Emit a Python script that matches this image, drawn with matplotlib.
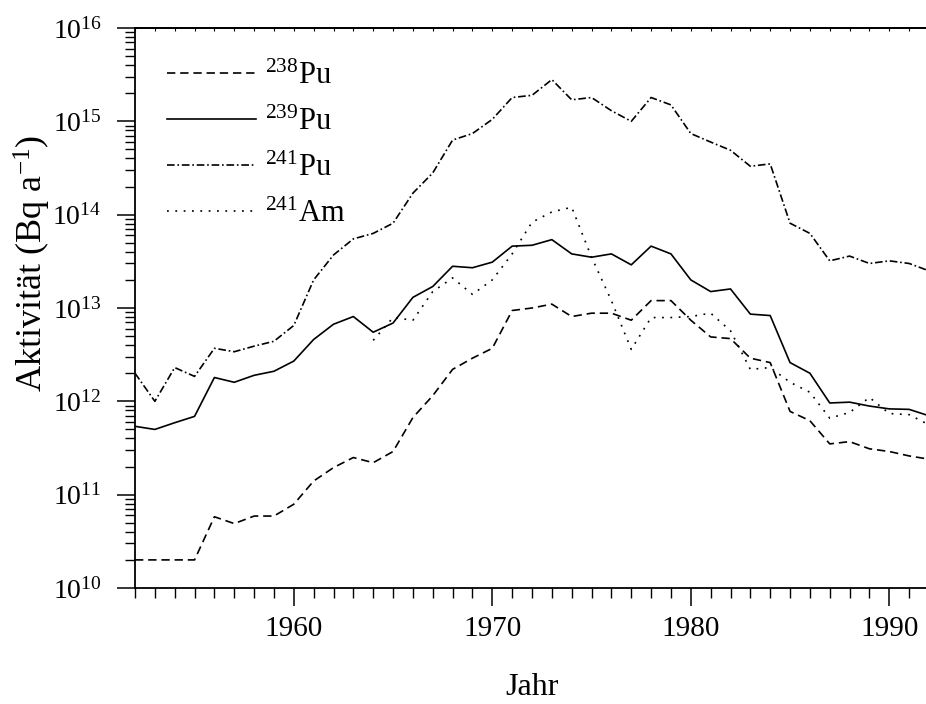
import matplotlib
matplotlib.use("Agg")
import matplotlib.pyplot as plt
from matplotlib.ticker import LogLocator, MultipleLocator, NullFormatter

plt.rcParams['font.family'] = ['Liberation Serif', 'DejaVu Serif']
plt.rcParams['mathtext.fontset'] = 'custom'
plt.rcParams['mathtext.rm'] = 'Liberation Serif'
plt.rcParams['mathtext.it'] = 'Liberation Serif:italic'
plt.rcParams['mathtext.bf'] = 'Liberation Serif:bold'
plt.rcParams['lines.scale_dashes'] = False

years = list(range(1952, 1993))

pu238 = [2.0e10, 2.0e10, 2.0e10, 2.0e10, 5.8e10, 4.9e10, 5.9e10, 5.9e10, 7.9e10, 1.4e11,
         1.95e11, 2.5e11, 2.2e11, 2.9e11, 6.7e11, 1.15e12, 2.2e12, 2.9e12, 3.7e12, 9.4e12,
         1.0e13, 1.1e13, 8.1e12, 8.8e12, 8.8e12, 7.4e12, 1.2e13, 1.2e13, 7.4e12, 4.9e12,
         4.7e12, 2.9e12, 2.6e12, 7.8e11, 6.2e11, 3.5e11, 3.7e11, 3.1e11, 2.9e11, 2.6e11,
         2.4e11]

pu239 = [5.4e11, 5.0e11, 5.9e11, 6.9e11, 1.8e12, 1.6e12, 1.9e12, 2.1e12, 2.7e12, 4.6e12,
         6.7e12, 8.1e12, 5.5e12, 6.9e12, 1.3e13, 1.7e13, 2.8e13, 2.7e13, 3.1e13, 4.6e13,
         4.7e13, 5.4e13, 3.8e13, 3.5e13, 3.8e13, 2.9e13, 4.6e13, 3.8e13, 2.0e13, 1.5e13,
         1.6e13, 8.6e12, 8.3e12, 2.6e12, 2.0e12, 9.6e11, 9.8e11, 8.9e11, 8.3e11, 8.2e11,
         7.0e11]

pu241 = [2.0e12, 1.0e12, 2.3e12, 1.85e12, 3.7e12, 3.4e12, 3.9e12, 4.4e12, 6.5e12, 2.0e13,
         3.7e13, 5.5e13, 6.3e13, 8.1e13, 1.7e14, 2.8e14, 6.3e14, 7.4e14, 1.05e15, 1.8e15,
         1.9e15, 2.8e15, 1.7e15, 1.8e15, 1.3e15, 1.0e15, 1.8e15, 1.5e15, 7.4e14, 6.0e14,
         4.9e14, 3.3e14, 3.5e14, 8.1e13, 6.3e13, 3.2e13, 3.6e13, 3.0e13, 3.2e13, 3.0e13,
         2.5e13]

am_years = list(range(1964, 1993))
am241 = [4.5e12, 7.9e12, 7.4e12, 1.5e13, 2.1e13, 1.4e13, 2.0e13, 3.8e13, 8.3e13, 1.07e14,
         1.2e14, 3.5e13, 1.2e13, 3.6e12, 7.9e12, 7.9e12, 8.1e12, 8.8e12, 5.7e12, 2.2e12,
         2.3e12, 1.6e12, 1.25e12, 6.6e11, 7.6e11, 1.1e12, 7.4e11, 7.2e11, 5.6e11]

labels = [r'$^{238}$Pu', r'$^{239}$Pu', r'$^{241}$Pu', r'$^{241}$Am']

fig = plt.figure(figsize=(9.26, 7.04), dpi=100)
W, H = 926, 704
ax = fig.add_axes([135 / W, 1 - 588 / H, 794 / W, 560 / H])

lw = 1.2
ax.plot(years, pu238, color='black', lw=lw, linestyle=(0, (6, 3.5)), label=labels[0])
ax.plot(years, pu239, color='black', lw=lw, linestyle='-', label=labels[1])
ax.plot(years, pu241, color='black', lw=lw, linestyle=(0, (5.5, 2, 1.2, 2)), label=labels[2])
ax.plot(am_years, am241, color='black', lw=lw, linestyle=(0, (1.3, 4.7)), label=labels[3])

ax.set_yscale('log')
ax.set_xlim(1952, 1992)
ax.set_ylim(1e10, 1e16)

ax.xaxis.set_major_locator(MultipleLocator(10))
ax.xaxis.set_minor_locator(MultipleLocator(1))
ax.yaxis.set_major_locator(LogLocator(base=10, numticks=10))
ax.yaxis.set_minor_locator(LogLocator(base=10, subs=range(2, 10), numticks=20))
ax.yaxis.set_minor_formatter(NullFormatter())

ax.spines['right'].set_visible(False)
for s in ['left', 'bottom', 'top']:
    ax.spines[s].set_linewidth(1.3)

ax.tick_params(axis='both', which='major', direction='out', length=13, width=1.1)
ax.tick_params(axis='both', which='minor', direction='out', length=7, width=1.0)
ax.tick_params(axis='x', which='major', labelsize=21, pad=7)
ax.tick_params(axis='y', which='major', labelsize=20, pad=11)
ax.tick_params(top=False, right=False)

sec = ax.secondary_xaxis('top')
sec.xaxis.set_major_locator(MultipleLocator(1))
sec.tick_params(direction='in', length=2, width=0.8, labeltop=False)
sec.spines['top'].set_linewidth(1.3)

ax.set_xlabel('Jahr', fontsize=23)
ax.set_ylabel(r'Aktivität (Bq a$^{-1}$)', fontsize=26)
ax.yaxis.set_label_coords(-0.103, 0.58)
ax.xaxis.set_label_coords(0.5, -0.152)

leg = ax.legend(loc='upper left', bbox_to_anchor=(0.025, 0.962), frameon=False,
                fontsize=22, handlelength=2.9, handletextpad=0.3, labelspacing=0.55,
                borderaxespad=0.0)

fig.savefig('out.png', dpi=100)
